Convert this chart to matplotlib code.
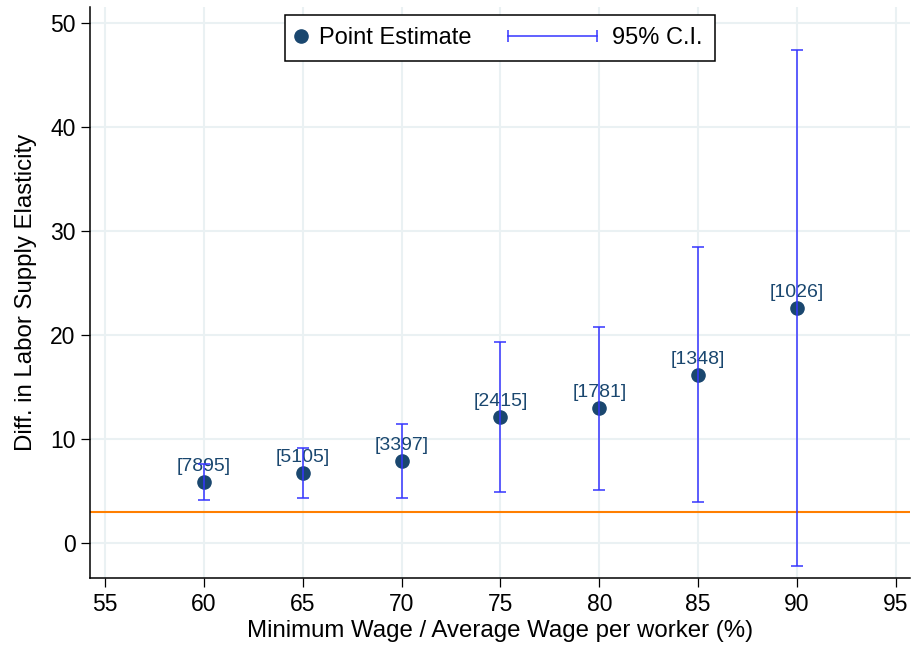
import matplotlib
matplotlib.use("Agg")
import matplotlib.pyplot as plt
from matplotlib.lines import Line2D
from matplotlib.legend_handler import HandlerBase, HandlerLine2D

# ---- data ----
ratio = [60, 65, 70, 75, 80, 85, 90]
estimate = [5.86, 6.79, 7.95, 12.16, 12.96, 16.17, 22.61]
ci_low = [4.13, 4.36, 4.34, 4.96, 5.15, 4.00, -2.15]
ci_high = [7.59, 9.18, 11.43, 19.37, 20.78, 28.46, 47.35]
obs_labels = ["7895", "5105", "3397", "2415", "1781", "1348", "1026"]
reference_line = 3.0
x_ticks = [55, 60, 65, 70, 75, 80, 85, 90, 95]
y_ticks = [0, 10, 20, 30, 40, 50]

NAVY = "#1a476f"
BLUE = "#3535ff"
ORANGE = "#ff7f00"
GRID = "#eaf1f3"

plt.rcParams["font.family"] = ["Liberation Sans", "DejaVu Sans"]

fig = plt.figure(figsize=(9.12, 6.5), dpi=100)
ax = fig.add_axes([0.0987, 0.1108, 0.8991, 0.8789])

ax.set_xlim(54.23, 95.72)
ax.set_ylim(-3.33, 51.55)
ax.set_xticks(x_ticks)
ax.set_yticks(y_ticks)
ax.grid(True, color=GRID, linewidth=1.5, zorder=0)
ax.set_axisbelow(True)

for s in ["top", "right"]:
    ax.spines[s].set_visible(False)
for s in ["left", "bottom"]:
    ax.spines[s].set_linewidth(1.1)
    ax.spines[s].set_color("black")
ax.tick_params(axis="both", direction="out", length=6.5, width=0.9,
               labelsize=16.5, pad=4, colors="black")

ax.axhline(reference_line, color=ORANGE, linewidth=1.5, zorder=2)

pts, = ax.plot(ratio, estimate, linestyle="none", marker="o",
               markersize=9.5, color=NAVY, zorder=3, label="Point Estimate")

yerr = [[e - l for e, l in zip(estimate, ci_low)],
        [h - e for e, h in zip(estimate, ci_high)]]
ax.errorbar(ratio, estimate, yerr=yerr, fmt="none", ecolor=BLUE,
            elinewidth=1.1, capsize=4.3, capthick=1.1, zorder=5)

for xv, yv, lab in zip(ratio, estimate, obs_labels):
    ax.annotate(f"[{lab}]", (xv, yv), xytext=(0, 5), textcoords="offset points",
                ha="center", va="bottom", fontsize=14, color=NAVY, zorder=4)

ax.set_xlabel("Minimum Wage / Average Wage per worker (%)", fontsize=17.3, labelpad=3)
ax.set_ylabel("Diff. in Labor Supply Elasticity", fontsize=17.3, labelpad=9)

# legend
ci_proxy = Line2D([], [], color=BLUE, linewidth=1.0)


class HandlerCI(HandlerBase):
    def create_artists(self, legend, orig_handle, xdescent, ydescent,
                       width, height, fontsize, trans):
        y = height / 2.0 - ydescent
        x1 = width - xdescent
        x0 = x1 - 3.77 * fontsize
        ln = Line2D([x0, x1], [y, y], color=BLUE, linewidth=1.1,
                    marker="|", markersize=8, markeredgewidth=1.1,
                    transform=trans)
        return [ln]


leg = ax.legend([pts, ci_proxy], ["Point Estimate", "95% C.I."],
                loc="upper center", bbox_to_anchor=(0.5, 1.0), ncol=2,
                fontsize=17, frameon=True, fancybox=False, shadow=False,
                handlelength=0.3, handletextpad=0.65, columnspacing=5.0,
                borderaxespad=0.35, borderpad=0.5,
                handler_map={pts: HandlerLine2D(numpoints=1),
                             ci_proxy: HandlerCI()})
leg.get_frame().set_edgecolor("black")
leg.get_frame().set_linewidth(1.1)
leg.get_frame().set_alpha(1.0)
leg.set_zorder(10)

fig.savefig("out.png", dpi=100)
